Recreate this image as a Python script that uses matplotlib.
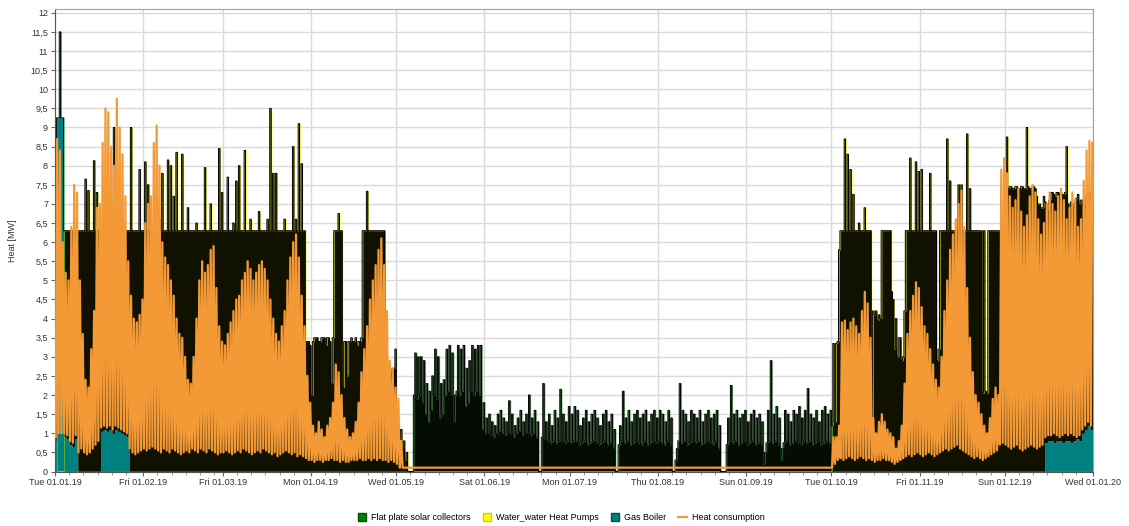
import numpy as np
import matplotlib.pyplot as plt
from matplotlib.ticker import FuncFormatter, FixedLocator
from matplotlib.lines import Line2D

plt.rcParams['font.family'] = ['Liberation Sans', 'DejaVu Sans']

# x axis: day of year 2019
month_starts = [0, 31, 59, 90, 120, 151, 181, 212, 243, 273, 304, 334, 365]
month_labels = ['Tue 01.01.19', 'Fri 01.02.19', 'Fri 01.03.19', 'Mon 01.04.19',
                'Wed 01.05.19', 'Sat 01.06.19', 'Mon 01.07.19', 'Thu 01.08.19',
                'Sun 01.09.19', 'Tue 01.10.19', 'Fri 01.11.19', 'Sun 01.12.19',
                'Wed 01.01.20']

# heat consumption [MW], daily low / daily high, 01.01 - 02.05
cons_hi_spring = [
    8.7, 8.4, 6.0, 5.2, 5.0, 6.4, 7.5, 7.3, 5.0, 3.6, 2.4, 2.2, 3.2, 4.2, 6.9, 7.0,
    8.6, 9.5, 9.4, 8.5, 8.0, 9.75, 9.0, 8.3, 7.2, 5.5, 4.6, 4.0, 3.9, 4.1, 4.5,
    6.5, 7.0, 7.2, 8.6, 9.05, 8.0, 6.0, 5.6, 5.4, 5.0, 4.6, 4.0, 3.6, 3.5, 3.0, 2.4,
    2.3, 3.0, 4.0, 5.0, 5.5, 5.2, 5.4, 5.8, 5.9, 4.8, 3.8, 3.4,
    3.3, 3.6, 3.9, 4.2, 4.5, 4.6, 5.0, 5.2, 5.5, 5.3, 5.0, 5.2, 5.4, 5.5, 5.3, 5.0,
    4.5, 4.0, 3.6, 3.4, 3.8, 4.2, 5.0, 5.6, 6.0, 6.2, 5.6, 4.6, 3.8, 2.5, 1.8,
    1.2, 1.0, 1.3, 1.1, 0.9, 1.2, 1.4, 1.8, 2.8, 2.6, 2.0, 1.4, 1.1, 0.9, 1.0, 1.3,
    1.8, 2.6, 3.2, 3.8, 4.5, 5.0, 5.4, 5.8, 6.1, 5.4, 4.2, 2.9, 2.7, 2.2, 1.9, 0.8]
cons_lo_spring = [
    0.9, 1.0, 1.0, 1.0, 0.95, 0.8, 0.75, 0.95, 0.5, 0.6, 0.5, 0.45, 0.5, 0.6, 0.7, 0.8,
    1.15, 1.2, 1.15, 1.2, 1.1, 1.2, 1.15, 1.1, 1.05, 1.0, 0.6, 0.5, 0.45, 0.5, 0.55,
    0.6, 0.55, 0.6, 0.65, 0.6, 0.55, 0.5, 0.6, 0.55, 0.5, 0.6, 0.55, 0.5, 0.45, 0.5, 0.55,
    0.5, 0.6, 0.55, 0.5, 0.6, 0.55, 0.5, 0.6, 0.55, 0.5, 0.45, 0.5,
    0.5, 0.55, 0.5, 0.45, 0.5, 0.55, 0.5, 0.6, 0.55, 0.5, 0.45, 0.5, 0.55, 0.5, 0.6, 0.55,
    0.5, 0.45, 0.5, 0.4, 0.45, 0.5, 0.55, 0.5, 0.45, 0.5, 0.4, 0.45, 0.4, 0.35, 0.3,
    0.3, 0.25, 0.3, 0.3, 0.25, 0.3, 0.3, 0.35, 0.3, 0.3, 0.25, 0.3, 0.25, 0.25, 0.3, 0.3,
    0.3, 0.35, 0.3, 0.3, 0.35, 0.3, 0.35, 0.3, 0.35, 0.3, 0.3, 0.25, 0.3, 0.25, 0.2, 0.1]
summer_cons = 0.1
# 01.10 - 31.12
cons_hi_autumn = [
    0.9, 0.9, 1.2, 3.9, 3.95, 3.7, 3.9, 4.0, 3.8, 3.6,
    4.2, 4.7, 4.4, 3.5, 1.4, 1.0, 1.3, 1.5, 1.3, 1.1,
    1.0, 0.9, 0.6, 0.8, 1.2, 2.3, 3.6, 4.2, 4.6, 4.95,
    4.8, 4.3, 3.8, 3.6, 3.2, 2.8, 2.4, 2.2, 3.0, 4.2,
    5.0, 5.8, 6.2, 6.6, 7.0, 7.35, 6.4, 4.8, 3.5, 2.6,
    2.0, 1.8, 1.5, 1.2, 1.0, 1.4, 1.9, 2.2, 2.0, 7.9,
    8.2, 7.8, 7.2, 6.9, 7.1, 7.4, 6.8, 6.4, 6.7, 7.2,
    7.5, 7.3, 6.6, 6.2, 6.5, 7.0, 7.3, 7.0, 6.8, 7.2,
    7.4, 7.1, 6.6, 6.9, 7.3, 7.1, 6.4, 6.6, 7.6, 8.4,
    8.65, 8.6]
cons_lo_autumn = [
    0.1, 0.2, 0.3, 0.35, 0.3, 0.35, 0.4, 0.35, 0.3, 0.35,
    0.4, 0.35, 0.3, 0.35, 0.3, 0.25, 0.3, 0.3, 0.35, 0.3,
    0.3, 0.25, 0.2, 0.25, 0.3, 0.35, 0.4, 0.45, 0.4, 0.45,
    0.5, 0.45, 0.4, 0.45, 0.5, 0.45, 0.4, 0.45, 0.5, 0.55,
    0.6, 0.55, 0.6, 0.65, 0.7, 0.6, 0.55, 0.5, 0.45, 0.4,
    0.35, 0.4, 0.35, 0.3, 0.35, 0.4, 0.45, 0.5, 0.55, 0.7,
    0.75, 0.7, 0.65, 0.6, 0.65, 0.7, 0.6, 0.55, 0.6, 0.65,
    0.7, 0.65, 0.6, 0.65, 0.7, 0.9, 0.95, 0.95, 1.0, 0.95,
    0.9, 0.95, 1.0, 0.95, 1.0, 0.95, 0.9, 0.95, 1.1, 1.2,
    1.3, 1.2]

# water_water heat pumps [MW], daily base / daily peak
pump_base_spring = [
    5.5, 0.0, 0.0, 5.4, 5.45, 5.6, 5.65, 5.45, 6.3, 6.3, 6.3, 6.3, 6.3, 6.3, 6.3, 6.3,
    5.25, 5.2, 5.25, 5.2, 5.3, 5.2, 5.25, 5.3, 5.35, 5.4, 6.3, 6.3, 6.3, 6.3, 6.3,
    6.3, 6.3, 6.3, 6.3, 6.3, 6.3, 6.3, 6.3, 6.3, 6.3, 6.3, 6.3, 6.3, 6.3, 6.3, 6.3,
    6.3, 6.3, 6.3, 6.3, 6.3, 6.3, 6.3, 6.3, 6.3, 6.3, 6.3, 6.3,
    6.3, 6.3, 6.3, 6.3, 6.3, 6.3, 6.3, 6.3, 6.3, 6.3, 6.3, 6.3, 6.3, 6.3, 6.3, 6.3,
    6.3, 6.3, 6.3, 6.3, 6.3, 6.3, 6.3, 6.3, 6.3, 6.3, 6.3, 6.3, 6.3, 3.4, 3.4,
    2.0, 3.5, 3.5, 3.4, 3.5, 3.3, 3.5, 2.3, 6.3, 6.3, 6.3, 2.2, 3.4, 3.4, 3.5, 3.4,
    3.3, 3.4, 6.3, 6.3, 6.3, 6.3, 6.3, 6.3, 6.3, 6.3, 2.7, 2.7, 2.6, 2.7, 0.8, 0.5,
    0.6, 0.3, 0.0]
pump_peak_spring = [
    0.0, 0.0, 0.0, 5.4, 5.45, 5.6, 5.65, 5.45, 6.3, 6.3, 7.65, 7.35, 6.3, 8.13, 7.3, 6.3,
    5.25, 5.2, 5.25, 5.2, 8.0, 5.2, 5.25, 5.3, 5.35, 5.4, 9.0, 6.3, 6.3, 7.9, 6.3,
    8.1, 7.5, 6.3, 6.3, 6.3, 6.6, 7.8, 6.3, 8.15, 8.0, 7.2, 8.35, 6.3, 8.3, 6.3, 6.9,
    6.3, 6.3, 6.5, 6.3, 6.3, 7.95, 6.3, 7.0, 6.3, 6.3, 8.45, 7.3,
    6.3, 7.7, 6.3, 6.5, 7.6, 8.0, 6.3, 8.4, 6.3, 6.6, 6.3, 6.3, 6.8, 6.3, 6.3, 6.6,
    9.5, 7.8, 7.8, 6.3, 6.3, 6.6, 6.3, 6.3, 8.5, 6.6, 9.1, 8.05, 6.3, 3.4, 3.3,
    3.4, 3.5, 3.4, 3.5, 3.5, 3.5, 3.4, 3.5, 6.3, 6.75, 6.3, 3.4, 2.5, 3.4, 3.4, 3.5,
    3.4, 3.5, 6.3, 7.33, 6.3, 6.3, 6.3, 6.3, 6.3, 6.3, 2.7, 2.6, 2.7, 3.2, 1.0, 1.1,
    0.8, 0.5, 0.0]
pump_base_autumn = [
    1.2, 1.3, 3.4, 6.3, 6.3, 6.3, 6.3, 6.3, 6.3, 6.3,
    6.3, 6.3, 6.3, 6.3, 0.8, 4.1, 3.95, 4.0, 6.3, 6.3,
    6.3, 4.7, 3.2, 3.0, 3.5, 3.0, 6.3, 6.3, 6.3, 6.3,
    6.3, 6.3, 6.3, 6.3, 6.3, 6.3, 6.3, 2.9, 6.3, 6.3,
    6.3, 6.3, 6.3, 6.3, 6.3, 6.3, 6.3, 6.3, 6.3, 6.3,
    6.3, 6.3, 6.3, 2.05, 2.1, 6.3, 6.3, 6.3, 6.3, 6.3,
    6.3, 6.3, 7.4, 7.45, 7.4, 7.45, 7.4, 7.45, 7.4, 7.45,
    7.4, 7.45, 7.2, 7.0, 6.9, 6.3, 6.2, 6.5, 6.5, 6.5,
    6.45, 6.5, 6.5, 6.2, 6.3, 6.2, 6.3, 6.2, 6.1, 6.0,
    6.1, 6.2]
pump_peak_autumn = [
    3.35, 3.35, 5.8, 6.3, 8.7, 8.3, 7.9, 7.25, 6.3, 6.5,
    6.3, 6.9, 6.3, 6.3, 4.2, 4.2, 4.1, 6.3, 6.3, 6.3,
    6.3, 4.5, 4.0, 3.5, 2.9, 4.2, 6.3, 8.2, 6.3, 8.1,
    7.85, 7.9, 6.3, 6.3, 7.8, 6.3, 6.3, 3.2, 6.3, 6.3,
    8.7, 7.6, 6.3, 6.3, 7.5, 7.5, 6.3, 8.83, 7.4, 6.3,
    6.3, 6.3, 6.3, 6.3, 2.05, 6.3, 6.3, 6.3, 6.3, 6.3,
    6.3, 8.75, 7.45, 7.4, 7.45, 7.4, 7.45, 7.4, 9.0, 7.4,
    7.45, 7.4, 7.0, 6.9, 7.2, 6.1, 6.3, 6.5, 6.45, 6.5,
    6.5, 6.5, 7.7, 6.1, 6.2, 6.3, 6.4, 6.3, 6.0, 6.1,
    6.0, 5.4]

# flat plate solar collectors [MW], 06.05 - 30.09
solar_peak = [
    0.0, 3.1, 3.0, 3.0, 2.9, 2.3, 2.1, 2.5, 3.2, 3.0,
    2.3, 2.4, 3.2, 3.3, 3.1, 2.0, 3.3, 3.2, 3.3, 2.7,
    2.9, 3.3, 3.2, 3.3, 3.3, 1.8, 1.4, 1.5, 1.3, 1.2,
    1.5, 1.6, 1.4, 1.3, 1.85, 1.5, 1.2, 1.4, 1.6, 1.3,
    1.5, 2.0, 1.4, 1.6, 1.3, 0.0, 2.3, 1.3, 1.5, 1.2,
    1.6, 1.4, 2.15, 1.5, 1.3, 1.7, 1.5, 1.7, 1.6, 1.2,
    1.4, 1.6, 1.3, 1.5, 1.6, 1.4, 1.2, 1.5, 1.6, 1.3,
    1.5, 1.1, 0.0, 1.2, 2.1, 1.4, 1.6, 1.3, 1.5, 1.6,
    1.4, 1.5, 1.6, 1.3, 1.5, 1.6, 1.4, 1.6, 1.5, 1.3,
    1.6, 1.4, 0.0, 0.6, 2.3, 1.6, 1.5, 1.3, 1.6, 1.5,
    1.4, 1.6, 1.3, 1.5, 1.6, 1.4, 1.5, 1.6, 1.2, 0.0,
    0.0, 1.4, 2.25, 1.5, 1.6, 1.4, 1.5, 1.6, 1.3, 1.5,
    1.6, 1.4, 1.5, 1.3, 0.5, 1.6, 2.9, 1.5, 1.7, 1.4,
    0.6, 1.6, 1.5, 1.3, 1.6, 1.5, 1.7, 1.4, 1.6, 2.17,
    1.5, 1.4, 1.6, 1.3, 1.6, 1.7, 1.5, 1.6]
solar_base = [
    0.0, 2.0, 1.9, 2.0, 1.8, 1.5, 1.3, 1.6, 2.0, 1.9,
    1.4, 1.5, 2.0, 2.1, 2.0, 1.3, 2.1, 2.0, 2.1, 1.7,
    1.8, 2.1, 2.0, 2.1, 2.0, 1.1, 1.0, 1.0, 0.95, 0.9,
    1.0, 1.05, 1.0, 0.95, 1.0, 1.0, 0.9, 1.0, 1.05, 0.95,
    1.0, 1.0, 0.95, 1.0, 0.9, 0.0, 0.9, 0.85, 0.8, 0.75,
    0.8, 0.75, 0.8, 0.8, 0.75, 0.8, 0.75, 0.8, 0.8, 0.7,
    0.75, 0.8, 0.7, 0.75, 0.8, 0.75, 0.7, 0.75, 0.8, 0.7,
    0.75, 0.6, 0.0, 0.7, 0.8, 0.75, 0.8, 0.7, 0.75, 0.8,
    0.75, 0.7, 0.8, 0.7, 0.75, 0.8, 0.75, 0.8, 0.75, 0.7,
    0.8, 0.7, 0.0, 0.3, 0.8, 0.75, 0.8, 0.7, 0.75, 0.8,
    0.75, 0.8, 0.7, 0.75, 0.8, 0.75, 0.7, 0.8, 0.6, 0.0,
    0.0, 0.7, 0.8, 0.75, 0.8, 0.7, 0.75, 0.8, 0.7, 0.75,
    0.8, 0.7, 0.75, 0.7, 0.2, 0.75, 0.8, 0.75, 0.8, 0.7,
    0.3, 0.75, 0.8, 0.7, 0.75, 0.8, 0.75, 0.7, 0.8, 0.75,
    0.8, 0.7, 0.75, 0.8, 0.7, 0.75, 0.8, 0.75]

# gas boiler [MW]
boiler_base_jan = [
    0.8, 9.25, 9.25, 0.9, 0.85, 0.7, 0.65, 0.85, 0, 0, 0, 0, 0, 0, 0, 0,
    1.05, 1.1, 1.05, 1.1, 1.0, 1.1, 1.05, 1.0, 0.95, 0.9, 0, 0, 0, 0, 0]
boiler_peak_jan = [
    9.25, 11.5, 9.25, 0.9, 0.85, 0.7, 0.65, 0.85, 0, 0, 0, 0, 0, 0, 0, 0,
    1.05, 1.1, 1.05, 1.1, 1.0, 1.1, 1.05, 1.0, 0.95, 0.9, 0, 0, 0, 0, 0]
boiler_dec = [
    0, 0, 0, 0, 0, 0, 0, 0, 0, 0, 0, 0, 0, 0,
    0.75, 0.8, 0.8, 0.75, 0.8, 0.8, 0.75, 0.8, 0.8, 0.75, 0.8, 0.85, 0.8,
    1.0, 1.1, 1.2, 1.1]

N_DAYS = 365


def daily(values, start):
    out = np.zeros(N_DAYS)
    out[start:start + len(values)] = values
    return out


def half_day(base, peak):
    # two samples per day: base level first, daily peak second
    return np.column_stack([base, peak]).ravel()


def ext(a):
    return np.append(a, a[-1])


boiler = half_day(daily(boiler_base_jan, 0) + daily(boiler_dec, 334),
                  daily(boiler_peak_jan, 0) + daily(boiler_dec, 334))
solar = half_day(daily(solar_base, 125), daily(solar_peak, 125))
pumps = half_day(daily(pump_base_spring, 0) + daily(pump_base_autumn, 273),
                 daily(pump_peak_spring, 0) + daily(pump_peak_autumn, 273))

lvl_boiler = boiler
lvl_solar = lvl_boiler + solar
lvl_total = lvl_solar + pumps
t = np.arange(2 * N_DAYS + 1) / 2

cons_hi = daily(cons_hi_spring, 0) + daily(cons_hi_autumn, 273)
cons_lo = daily(cons_lo_spring, 0) + daily(cons_lo_autumn, 273)
cons_hi[len(cons_hi_spring):273] = summer_cons
cons_lo[len(cons_lo_spring):273] = summer_cons
days = np.arange(N_DAYS)
t_cons = np.column_stack([days + 0.25, days + 0.75]).ravel()
cons = np.column_stack([cons_lo, cons_hi]).ravel()

C_SOLAR = '#008000'
C_PUMP = '#ffff00'
C_BOILER = '#008080'
C_CONS = '#f39a37'

fig = plt.figure(figsize=(11.29, 5.26), dpi=100)
ax = fig.add_axes([55 / 1129, 1 - 471.5 / 526, (1093 - 55) / 1129, (471.5 - 9) / 526])

ax.fill_between(t, 0, ext(lvl_boiler), step='post', color=C_BOILER, lw=0, zorder=2)
ax.fill_between(t, ext(lvl_boiler), ext(lvl_solar), step='post', color='#050c04', lw=0, zorder=2)
ax.fill_between(t, ext(lvl_solar), ext(lvl_total), step='post', color='#111100', lw=0, zorder=2)
# thin coloured edges beside the black outline, as the hourly bars show them
ax.step(t + 0.3, ext(np.where(pumps > 0, lvl_total, 0)), where='post',
        color=C_PUMP, lw=0.5, alpha=0.8, zorder=2.5)
ax.step(t + 0.3, ext(np.where(pumps > 0, 0, lvl_solar)), where='post',
        color='#2f9a2f', lw=0.5, alpha=0.8, zorder=2.5)
ax.step(t, ext(lvl_total), where='post', color='black', lw=0.7, zorder=3)
ax.plot(t_cons, cons, color=C_CONS, lw=1.6, zorder=4)

ax.set_xlim(0, 365)
ax.set_ylim(0, 12.1)
ax.set_yticks(np.arange(0, 12.01, 0.5))
ax.yaxis.set_major_formatter(FuncFormatter(lambda v, p: f'{v:g}'.replace('.', ',')))
ax.set_xticks(month_starts)
ax.set_xticklabels(month_labels)
minor = [m + 5 * k for i, m in enumerate(month_starts[:-1])
         for k in range(1, 6) if m + 5 * k < month_starts[i + 1] - 1]
ax.xaxis.set_minor_locator(FixedLocator(minor))

ax.grid(which='major', color='#d9d9d9', lw=1)
ax.set_axisbelow(True)
ax.tick_params(axis='both', which='major', labelsize=6.5, length=3, color='#666666',
               labelcolor='#333333', pad=2)
ax.tick_params(axis='x', which='minor', length=2, color='#888888')
for side in ['left', 'bottom']:
    ax.spines[side].set_color('#555555')
for side in ['top', 'right']:
    ax.spines[side].set_color('#a0a0a0')
ax.set_ylabel('Heat [MW]', fontsize=6.5, color='#333333', labelpad=10)

handles = [
    Line2D([], [], ls='none', marker='s', ms=6, mfc=C_SOLAR, mec='#005000'),
    Line2D([], [], ls='none', marker='s', ms=6, mfc=C_PUMP, mec='#d0d000'),
    Line2D([], [], ls='none', marker='s', ms=6, mfc=C_BOILER, mec='#005050'),
    Line2D([], [], color=C_CONS, lw=1.6),
]
labels = ['Flat plate solar collectors', 'Water_water Heat Pumps', 'Gas Boiler', 'Heat consumption']
fig.legend(handles, labels, loc='lower center', bbox_to_anchor=(0.497, -0.008), ncol=4,
           frameon=False, fontsize=6.5, handlelength=1.0, handletextpad=0.5, columnspacing=1.3)

fig.savefig('out.png', dpi=100)
